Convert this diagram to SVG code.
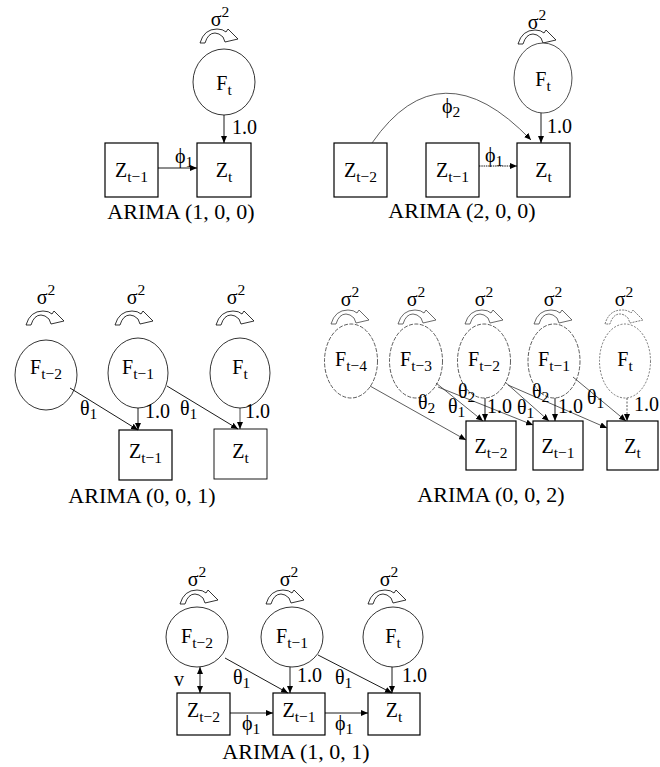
<svg xmlns="http://www.w3.org/2000/svg" width="660" height="767" viewBox="0 0 660 767">
<defs>
<style>
text{font-family:"Liberation Serif","Times New Roman",serif;fill:#000}
.v{font-size:20px}
.s{font-size:15.5px}
.m{text-anchor:middle}
.cap{font-size:22px;text-anchor:middle}
.lat{fill:#fff;stroke:#000;stroke-width:0.8}
.latd{fill:#fff;stroke:#333;stroke-width:0.8;stroke-dasharray:4 1.5}
.obs{fill:#fff;stroke:#000;stroke-width:1.2}
.e{fill:none;stroke:#000;stroke-width:0.9;marker-end:url(#ah)}
.ed{fill:none;stroke:#333;stroke-width:0.8;marker-end:url(#ah)}
.loop{fill:#fff;stroke:#000;stroke-width:0.8}
</style>
<marker id="ah" markerUnits="userSpaceOnUse" markerWidth="7" markerHeight="6" refX="7" refY="3" orient="auto-start-reverse"><path d="M0,0 L7,3 L0,6 z"/></marker>
<path id="lp" d="M-19,7 Q-15,-7 -2,-7 Q4,-7 7,-4 L9,-7 L19,3 L6,6 L4,1 Q0,-3 -4,-3 Q-11,-3 -14,7 Z"/>
</defs>

<!-- ARIMA (1,0,0) -->
<g id="a100">
  <g id="a100-Ft">
    <text class="v m" x="220" y="26">σ<tspan class="s" dy="-9">2</tspan></text>
    <use href="#lp" class="loop" x="219" y="36"/>
    <ellipse class="lat" cx="224" cy="82" rx="31" ry="33"/>
    <text class="v m" x="224" y="90">F<tspan class="s" dy="5">t</tspan></text>
  </g>
  <g id="a100-Zt1">
    <rect class="obs" x="105" y="143" width="53" height="54"/>
    <text class="v m" x="131.5" y="177">Z<tspan class="s" dy="5">t−1</tspan></text>
  </g>
  <g id="a100-Zt">
    <rect class="obs" x="197" y="143" width="54" height="54"/>
    <text class="v m" x="224" y="177">Z<tspan class="s" dy="5">t</tspan></text>
  </g>
  <text id="a100-label" class="cap" x="181" y="219">ARIMA (1, 0, 0)</text>
</g>

<!-- ARIMA (2,0,0) -->
<g id="a200">
  <g id="a200-Ft">
    <text class="v m" x="537" y="29">σ<tspan class="s" dy="-9">2</tspan></text>
    <use href="#lp" class="loop" x="537" y="37"/>
    <ellipse class="lat" cx="543" cy="78" rx="29" ry="35" style="stroke:#222"/>
    <text class="v m" x="543" y="86">F<tspan class="s" dy="5">t</tspan></text>
  </g>
  <g id="a200-Zt2">
    <rect class="obs" x="334" y="143" width="53" height="54"/>
    <text class="v m" x="360.5" y="177">Z<tspan class="s" dy="5">t−2</tspan></text>
  </g>
  <g id="a200-Zt1">
    <rect class="obs" x="426" y="143" width="53" height="54"/>
    <text class="v m" x="452.5" y="177">Z<tspan class="s" dy="5">t−1</tspan></text>
  </g>
  <g id="a200-Zt">
    <rect class="obs" x="517" y="143" width="53" height="54"/>
    <text class="v m" x="543.5" y="177">Z<tspan class="s" dy="5">t</tspan></text>
  </g>
  <text id="a200-label" class="cap" x="462" y="218">ARIMA (2, 0, 0)</text>
</g>

<!-- ARIMA (0,0,1) -->
<g id="a001">
  <g id="a001-Ft2">
    <text class="v m" x="46" y="304">σ<tspan class="s" dy="-9">2</tspan></text>
    <use href="#lp" class="loop" x="45" y="318"/>
    <ellipse class="lat" cx="46" cy="375" rx="31" ry="35"/>
    <text class="v m" x="46" y="374">F<tspan class="s" dy="5">t−2</tspan></text>
  </g>
  <g id="a001-Ft1">
    <text class="v m" x="136" y="304">σ<tspan class="s" dy="-9">2</tspan></text>
    <use href="#lp" class="loop" x="134" y="318"/>
    <ellipse class="lat" cx="138" cy="373" rx="30" ry="35"/>
    <text class="v m" x="138" y="374">F<tspan class="s" dy="5">t−1</tspan></text>
  </g>
  <g id="a001-Ft">
    <text class="v m" x="236" y="304">σ<tspan class="s" dy="-9">2</tspan></text>
    <use href="#lp" class="loop" x="235" y="318"/>
    <ellipse class="lat" cx="240" cy="373" rx="30" ry="35"/>
    <text class="v m" x="240" y="374">F<tspan class="s" dy="5">t</tspan></text>
  </g>
  <g id="a001-Zt1">
    <rect class="obs" x="119" y="430" width="53" height="50"/>
    <text class="v m" x="145.5" y="458">Z<tspan class="s" dy="5">t−1</tspan></text>
  </g>
  <g id="a001-Zt">
    <rect class="obs" x="214" y="429" width="53" height="50" style="stroke-width:0.9"/>
    <text class="v m" x="240.5" y="458">Z<tspan class="s" dy="5">t</tspan></text>
  </g>
  <text id="a001-label" class="cap" x="142" y="503">ARIMA (0, 0, 1)</text>
</g>

<!-- ARIMA (0,0,2) -->
<g id="a002">
  <g id="a002-Ft4">
    <text class="v m" x="350" y="306">σ<tspan class="s" dy="-9">2</tspan></text>
    <use href="#lp" class="loop" x="350" y="317" style="stroke:#444"/>
    <ellipse class="latd" cx="351" cy="361" rx="26.5" ry="37"/>
    <text class="v m" x="351" y="366">F<tspan class="s" dy="5">t−4</tspan></text>
  </g>
  <g id="a002-Ft3">
    <text class="v m" x="416" y="306">σ<tspan class="s" dy="-9">2</tspan></text>
    <use href="#lp" class="loop" x="417" y="317" style="stroke:#444"/>
    <ellipse class="latd" cx="416" cy="361" rx="26.5" ry="37"/>
    <text class="v m" x="416" y="366">F<tspan class="s" dy="5">t−3</tspan></text>
  </g>
  <g id="a002-Ft2">
    <text class="v m" x="484" y="306">σ<tspan class="s" dy="-9">2</tspan></text>
    <use href="#lp" class="loop" x="484" y="317" style="stroke:#444"/>
    <ellipse class="latd" cx="484" cy="361" rx="26.5" ry="37"/>
    <text class="v m" x="484" y="366">F<tspan class="s" dy="5">t−2</tspan></text>
  </g>
  <g id="a002-Ft1">
    <text class="v m" x="553" y="306">σ<tspan class="s" dy="-9">2</tspan></text>
    <use href="#lp" class="loop" x="553" y="317" style="stroke:#444"/>
    <ellipse class="latd" cx="554" cy="361" rx="26" ry="37"/>
    <text class="v m" x="554" y="366">F<tspan class="s" dy="5">t−1</tspan></text>
  </g>
  <g id="a002-Ft">
    <text class="v m" x="624" y="306">σ<tspan class="s" dy="-9">2</tspan></text>
    <use href="#lp" class="loop" x="624" y="317" style="stroke:#555;stroke-dasharray:2 1"/>
    <ellipse class="latd" cx="625" cy="361" rx="25.5" ry="37" style="stroke-dasharray:2 1.5;stroke:#555"/>
    <text class="v m" x="625" y="366">F<tspan class="s" dy="5">t</tspan></text>
  </g>
  <g id="a002-Zt2">
    <rect class="obs" x="466" y="421" width="50" height="49"/>
    <text class="v m" x="491" y="453">Z<tspan class="s" dy="5">t−2</tspan></text>
  </g>
  <g id="a002-Zt1">
    <rect class="obs" x="533" y="421" width="50" height="49"/>
    <text class="v m" x="558" y="453">Z<tspan class="s" dy="5">t−1</tspan></text>
  </g>
  <g id="a002-Zt">
    <rect class="obs" x="607" y="421" width="51" height="49"/>
    <text class="v m" x="632.5" y="453">Z<tspan class="s" dy="5">t</tspan></text>
  </g>
  <text id="a002-label" class="cap" x="491" y="502">ARIMA (0, 0, 2)</text>
</g>

<!-- ARIMA (1,0,1) -->
<g id="a101">
  <g id="a101-Ft2">
    <text class="v m" x="197" y="586">σ<tspan class="s" dy="-9">2</tspan></text>
    <use href="#lp" class="loop" x="199" y="597"/>
    <ellipse class="lat" cx="197" cy="637" rx="31" ry="30"/>
    <text class="v m" x="197" y="643">F<tspan class="s" dy="5">t−2</tspan></text>
  </g>
  <g id="a101-Ft1">
    <text class="v m" x="289" y="586">σ<tspan class="s" dy="-9">2</tspan></text>
    <use href="#lp" class="loop" x="285" y="597"/>
    <ellipse class="lat" cx="292" cy="637" rx="31" ry="30"/>
    <text class="v m" x="292" y="643">F<tspan class="s" dy="5">t−1</tspan></text>
  </g>
  <g id="a101-Ft">
    <text class="v m" x="389" y="586">σ<tspan class="s" dy="-9">2</tspan></text>
    <use href="#lp" class="loop" x="387" y="597"/>
    <ellipse class="lat" cx="393" cy="637" rx="30" ry="30"/>
    <text class="v m" x="393" y="643">F<tspan class="s" dy="5">t</tspan></text>
  </g>
  <g id="a101-Zt2">
    <rect class="obs" x="177" y="693" width="53" height="42"/>
    <text class="v m" x="203.5" y="717">Z<tspan class="s" dy="5">t−2</tspan></text>
  </g>
  <g id="a101-Zt1">
    <rect class="obs" x="273" y="693" width="52" height="42"/>
    <text class="v m" x="299" y="717">Z<tspan class="s" dy="5">t−1</tspan></text>
  </g>
  <g id="a101-Zt">
    <rect class="obs" x="368" y="693" width="52" height="42"/>
    <text class="v m" x="394" y="717">Z<tspan class="s" dy="5">t</tspan></text>
  </g>
  <text id="a101-label" class="cap" x="296" y="759">ARIMA (1, 0, 1)</text>
</g>

<!-- connectors -->
<g id="connectors">
  <!-- (1,0,0) -->
  <path class="e" d="M224,115 L224,143"/>
  <path class="e" d="M158,168 L197,168"/>
  <!-- (2,0,0) -->
  <path class="e" d="M541,113 L541,143"/>
  <path class="e" d="M479,166 L517,166" style="stroke-dasharray:1.5 0.8"/>
  <path class="ed" d="M372,143 Q440,45 531,140"/>
  <!-- (0,0,1) -->
  <path class="e" d="M70,388 L138,430"/>
  <path class="e" d="M138,408 L138,430"/>
  <path class="e" d="M167,386 L238,429"/>
  <path class="e" d="M240,408 L240,429" style="stroke-width:0.7"/>
  <!-- (0,0,2) -->
  <path class="ed" d="M370,386 L466,440"/>
  <path class="ed" d="M436,383 L483,421"/>
  <path class="ed" d="M438,387 L533,425"/>
  <path class="e" d="M485,398 L485,421"/>
  <path class="ed" d="M505,382 L549,421"/>
  <path class="ed" d="M508,385 L607,428"/>
  <path class="e" d="M555,398 L555,421"/>
  <path class="ed" d="M573,377 L626,421"/>
  <path class="ed" d="M627,398 L627,421" style="stroke-dasharray:2 1.5"/>
  <!-- (1,0,1) -->
  <path class="e" d="M200,667 L200,693" style="marker-start:url(#ah)"/>
  <path class="e" d="M225,658 L288,693"/>
  <path class="e" d="M290,667 L290,693"/>
  <path class="e" d="M318,655 L392,693"/>
  <path class="e" d="M392,667 L392,693"/>
  <path class="e" d="M230,713 L273,713"/>
  <path class="e" d="M325,713 L368,713"/>

  <g id="edge-labels">
    <text class="v" x="175" y="163">ϕ<tspan class="s" dy="4">1</tspan></text>
    <text class="v" x="232" y="134">1.0</text>
    <text class="v" x="485" y="162">ϕ<tspan class="s" dy="4">1</tspan></text>
    <text class="v" x="547" y="133">1.0</text>
    <text class="v" x="442" y="113">ϕ<tspan class="s" dy="4">2</tspan></text>

    <text class="v" x="80" y="415">θ<tspan class="s" dy="4">1</tspan></text>
    <text class="v" x="145" y="418">1.0</text>
    <text class="v" x="180" y="415">θ<tspan class="s" dy="4">1</tspan></text>
    <text class="v" x="245" y="418">1.0</text>

    <text class="v" x="418" y="409">θ<tspan class="s" dy="4">2</tspan></text>
    <text class="v" x="448" y="413">θ<tspan class="s" dy="4">1</tspan></text>
    <text class="v" x="458" y="398">θ<tspan class="s" dy="4">2</tspan></text>
    <text class="v" x="487" y="413">1.0</text>
    <text class="v" x="517" y="414">θ<tspan class="s" dy="4">1</tspan></text>
    <text class="v" x="532" y="398">θ<tspan class="s" dy="4">2</tspan></text>
    <text class="v" x="558" y="413">1.0</text>
    <text class="v" x="587" y="404">θ<tspan class="s" dy="4">1</tspan></text>
    <text class="v" x="634" y="411">1.0</text>

    <text class="v" x="174" y="686">v</text>
    <text class="v" x="233" y="684">θ<tspan class="s" dy="4">1</tspan></text>
    <text class="v" x="297" y="682">1.0</text>
    <text class="v" x="335" y="684">θ<tspan class="s" dy="4">1</tspan></text>
    <text class="v" x="402" y="682">1.0</text>
    <text class="v" x="242" y="730">ϕ<tspan class="s" dy="4">1</tspan></text>
    <text class="v" x="335" y="730">ϕ<tspan class="s" dy="4">1</tspan></text>
  </g>
</g>
</svg>
